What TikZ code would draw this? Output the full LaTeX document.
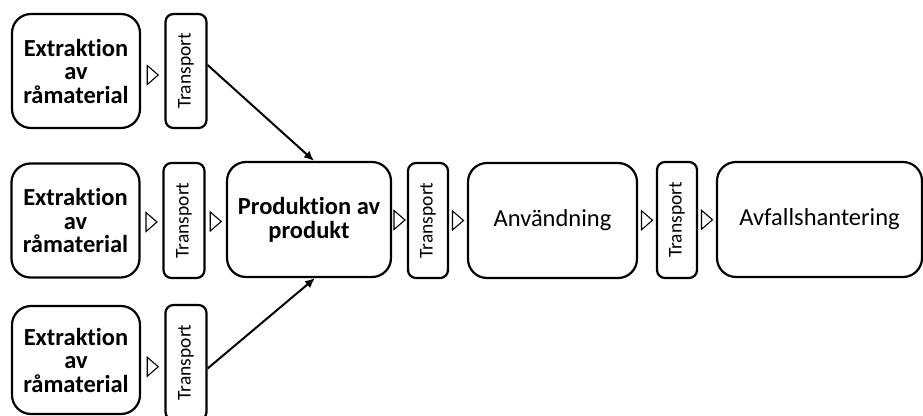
\documentclass[tikz,border=0pt]{standalone}
\usepackage{fontspec}
\setmainfont{Carlito}[Ligatures=NoCommon]
\usepackage{graphicx}
\usetikzlibrary{arrows.meta,calc}

\tikzset{
  stage/.style={draw=black, line width=2.2pt, rounded corners=19pt, align=center,
    inner sep=0pt, font=\fontsize{24.5}{24}\selectfont},
  srcbox/.style={stage, font=\fontsize{24.5}{23.5}\selectfont\bfseries,
    minimum width=128pt, minimum height=114pt, text width=126pt},
  transbox/.style={draw=black, line width=2.2pt, rounded corners=8pt, inner sep=0pt,
    minimum width=41pt, minimum height=115pt, font=\fontsize{19.5}{19.5}\selectfont},
  flowtri/.style={draw=black, fill=white, line width=1.1pt, line join=miter},
  feed/.style={line width=2pt, -{Latex[length=10pt,width=9pt]}}
}
% open triangle marking the flow between two neighbouring boxes
\newcommand{\flowmark}[3]{%
  \draw[flowtri] ($(#1.east)!.5!(#2.west)+(-5.5,#3+9.5)$) -- ++(11,-9.5) -- ++(-11,-9.5) -- cycle;}

\begin{document}
\begin{tikzpicture}[x=1pt,y=1pt]
\clip (0,0) rectangle (923,-415);
\fill[white] (0,0) rectangle (923,-415);

% raw material sources
\node[srcbox] (ext1) at (76,-71)    {Extraktion\\av\\råmaterial};
\node[srcbox] (ext2) at (75.5,-220.5) {Extraktion\\av\\råmaterial};
\node[srcbox, minimum height=108pt] (ext3) at (76,-360) {Extraktion\\av\\råmaterial};

% transport steps
\node[transbox, minimum height=114pt] (tr1) at (186,-71) {\rotatebox{90}{Transport}};
\node[transbox] (tr2) at (184,-220.5) {\rotatebox{90}{Transport}};
\node[transbox] (tr5) at (186,-362.5) {\rotatebox{90}{Transport}};
\node[transbox, minimum width=40pt] (tr3) at (428,-220.5) {\rotatebox{90}{Transport}};
\node[transbox, minimum width=40pt, minimum height=116pt] (tr4) at (677,-220) {\rotatebox{90}{Transport}};

% main life-cycle stages
\node[stage, font=\fontsize{24.5}{24}\selectfont\bfseries, minimum width=164pt, minimum height=115pt] (prod) at (309,-219.5) {Produktion av\\produkt};
\node[stage, minimum width=169pt, minimum height=115pt] (use) at (552.5,-220.5) {Användning};
\node[stage, minimum width=205pt, minimum height=115pt] (waste) at (819.5,-219.5) {Avfallshantering};

% flow markers
\flowmark{ext1}{tr1}{-4}
\flowmark{ext2}{tr2}{-1.5}
\flowmark{ext3}{tr5}{-5.5}
\flowmark{tr2}{prod}{-1.5}
\flowmark{prod}{tr3}{0}
\flowmark{tr3}{use}{0}
\flowmark{use}{tr4}{0}
\flowmark{tr4}{waste}{0}

% feeds from the outer sources into production
\draw[feed] ([yshift=6pt]tr1.east) -- ([xshift=5pt]prod.north);
\draw[feed] ([yshift=-6pt]tr5.east) -- ([xshift=6pt]prod.south);
\end{tikzpicture}
\end{document}
